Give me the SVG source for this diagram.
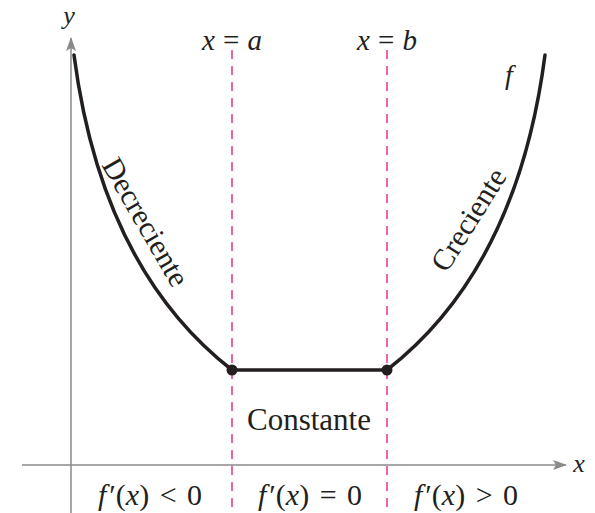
<svg xmlns="http://www.w3.org/2000/svg" width="595" height="513" viewBox="0 0 595 513">
<defs>
<style>
text{font-family:"Liberation Serif","Times New Roman",serif;fill:#231f20}
.i{font-style:italic}
.axis{stroke:#8a8a8c;stroke-width:1.5;fill:none}
.dash{stroke:#e8338f;stroke-width:1.5;stroke-dasharray:9,7;fill:none}
.curve{stroke:#231f20;stroke-width:3.5;fill:none;stroke-linecap:round}
.rg{font-size:30px;word-spacing:3px}
</style>
<marker id="ah" viewBox="0 0 14 10" refX="13" refY="5" markerWidth="14" markerHeight="10" markerUnits="userSpaceOnUse" orient="auto">
<path d="M0,0 L14,5 L0,10 L3,5 Z" fill="#8a8a8c"/>
</marker>
</defs>
<rect width="595" height="513" fill="#fff"/>
<g id="axes">
<line class="axis" x1="71" y1="513" x2="71" y2="38" marker-end="url(#ah)"/>
<line class="axis" x1="22" y1="465" x2="566" y2="465" marker-end="url(#ah)"/>
<text class="i" x="69" y="24" font-size="26" text-anchor="middle">y</text>
<text class="i" x="579" y="472" font-size="26" text-anchor="middle">x</text>
</g>
<g id="connectors">
<line class="dash" x1="232" y1="50" x2="232" y2="513"/>
<line class="dash" x1="387" y1="50" x2="387" y2="513"/>
</g>
<g id="curve-f">
<path class="curve" d="M74,55 Q101.7,268.4 232,370 L387,370 Q517.3,268.4 545,55"/>
<circle cx="232" cy="370" r="5.5" fill="#231f20"/>
<circle cx="387" cy="370" r="5.5" fill="#231f20"/>
<text class="i" x="509" y="84" font-size="28" text-anchor="middle">f</text>
</g>
<g id="label-a"><text x="232" y="50" font-size="29" text-anchor="middle" word-spacing="1"><tspan class="i">x</tspan> = <tspan class="i">a</tspan></text></g>
<g id="label-b"><text x="387" y="50" font-size="29" text-anchor="middle" word-spacing="1"><tspan class="i">x</tspan> = <tspan class="i">b</tspan></text></g>
<g id="decreciente"><text transform="translate(137,227) rotate(60)" font-size="30" text-anchor="middle">Decreciente</text></g>
<g id="creciente"><text transform="translate(477,225) rotate(-58)" font-size="30" text-anchor="middle">Creciente</text></g>
<g id="constante"><text x="309" y="430" font-size="31" text-anchor="middle">Constante</text></g>
<g id="region-left"><text class="rg" x="150" y="505" text-anchor="middle"><tspan class="i">f</tspan><tspan dx="3">′(</tspan><tspan class="i">x</tspan>) &lt; 0</text></g>
<g id="region-mid"><text class="rg" x="310" y="505" text-anchor="middle"><tspan class="i">f</tspan><tspan dx="3">′(</tspan><tspan class="i">x</tspan>) = 0</text></g>
<g id="region-right"><text class="rg" x="466" y="505" text-anchor="middle"><tspan class="i">f</tspan><tspan dx="3">′(</tspan><tspan class="i">x</tspan>) &gt; 0</text></g>
</svg>
